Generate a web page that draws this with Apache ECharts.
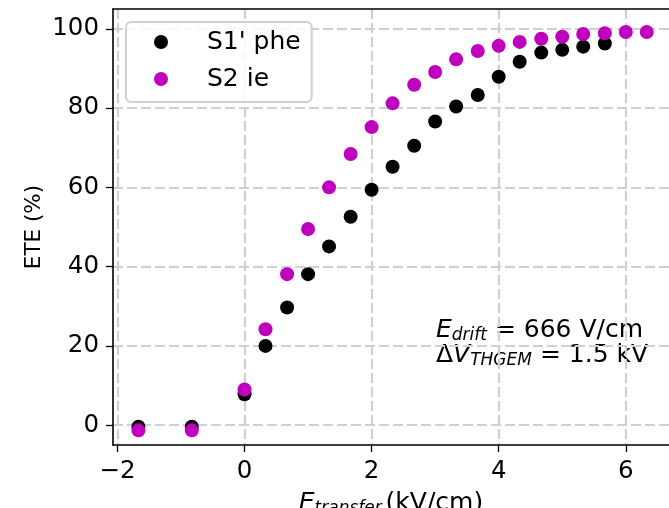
<!DOCTYPE html>
<html>
<head>
<meta charset="utf-8">
<script src="https://cdn.jsdelivr.net/npm/echarts@6/dist/echarts.min.js"></script>
<style>
  html, body { margin: 0; padding: 0; background: #fff; }
  #chart { width: 669px; height: 508px; }
</style>
</head>
<body>
<div id="chart"></div>
<script>
// data
const s1X = [-1.67, -0.83, 0, 0.33, 0.67, 1, 1.33, 1.67, 2, 2.33, 2.67, 3, 3.33, 3.67, 4, 4.33, 4.67, 5, 5.33, 5.67];
const s1Y = [-0.4, -0.4, 7.8, 20.0, 29.7, 38.1, 45.1, 52.6, 59.4, 65.2, 70.5, 76.6, 80.4, 83.3, 87.9, 91.7, 94.0, 94.7, 95.5, 96.3];
const s2X = [-1.67, -0.83, 0, 0.33, 0.67, 1, 1.33, 1.67, 2, 2.33, 2.67, 3, 3.33, 3.67, 4, 4.33, 4.67, 5, 5.33, 5.67, 6, 6.33];
const s2Y = [-1.3, -1.3, 9.0, 24.2, 38.1, 49.5, 60.0, 68.4, 75.2, 81.2, 85.9, 89.1, 92.3, 94.4, 95.7, 96.7, 97.5, 98.0, 98.7, 98.9, 99.2, 99.2];
const xTicks = [-2, 0, 2, 4, 6];
const yTicks = [0, 20, 40, 60, 80, 100];

const font = 'DejaVu Sans';
const pairs = (xs, ys) => xs.map((x, i) => [x, ys[i]]);

const chart = echarts.init(document.getElementById('chart'), null, {renderer: 'canvas'});

const gridLine = {show: true, lineStyle: {color: '#d0d0d0', width: 2.2, type: [10, 4]}};
const spine = {show: true, onZero: false, lineStyle: {color: '#000', width: 1.6}};

chart.setOption({
    animation: false,
    textStyle: {fontFamily: font},
    grid: {left: 113, top: 9, right: 0, bottom: 63, outerBoundsMode: 'none', containLabel: false},
    legend: {
        left: 126,
        top: 22,
        orient: 'vertical',
        icon: 'circle',
        itemWidth: 14,
        itemHeight: 14,
        itemGap: 9,
        padding: [6, 11, 9, 28],
        backgroundColor: 'rgba(255,255,255,0.85)',
        borderColor: '#d0d0d0',
        borderWidth: 2,
        borderRadius: 5,
        textStyle: {fontFamily: font, fontSize: 25, color: '#000', lineHeight: 28, padding: [0, 0, 0, 34]},
        data: ["S1' phe", 'S2 ie'],
    },
    xAxis: [
        {
            type: 'value',
            min: -2.07,
            max: 6.68,
            name: '{e|E}{sub|transfer} {n|(kV/cm)}',
            nameLocation: 'middle',
            nameGap: 44,
            nameTextStyle: {
                rich: {
                    e: {fontFamily: font, fontSize: 25, fontStyle: 'italic', color: '#000'},
                    sub: {fontFamily: font, fontSize: 17, fontStyle: 'italic', color: '#000', padding: [11, 0, 0, 0]},
                    n: {fontFamily: font, fontSize: 25, color: '#000'},
                },
            },
            axisLine: spine,
            axisTick: {show: true, length: 7, customValues: xTicks, lineStyle: {color: '#000', width: 1.3}},
            axisLabel: {customValues: xTicks, margin: 14, fontFamily: font, fontSize: 24.5, color: '#000',
                formatter: v => (v < 0 ? '\u2212' + Math.abs(v) : String(v))},
            splitLine: gridLine,
        },
        {
            type: 'value',
            position: 'top',
            min: -2.07,
            max: 6.68,
            axisLine: spine,
            axisTick: {show: false},
            axisLabel: {show: false},
            splitLine: {show: false},
        },
    ],
    yAxis: {
        type: 'value',
        min: -5,
        max: 105,
        name: 'ETE (%)',
        nameLocation: 'middle',
        nameGap: 68,
        nameMoveOverlap: false,
        nameTextStyle: {fontFamily: font, fontSize: 21.5, color: '#000'},
        axisLine: spine,
        axisTick: {show: true, length: 7, customValues: yTicks, lineStyle: {color: '#000', width: 1.3}},
        axisLabel: {customValues: yTicks, margin: 14, fontFamily: font, fontSize: 24.5, color: '#000'},
        splitLine: gridLine,
    },
    graphic: [
        {
            type: 'text',
            left: 436,
            top: 316,
            style: {
                text: '{e|E}{sub|drift}{n| = 666 V/cm}\n{n|Δ}{e|V}{sub|THGEM}{n| = 1.5 kV}',
                rich: {
                    e: {fontFamily: font, fontSize: 25, fontStyle: 'italic', fill: '#000', lineHeight: 25},
                    sub: {fontFamily: font, fontSize: 17, fontStyle: 'italic', fill: '#000', padding: [11, 0, 0, 0], lineHeight: 25},
                    n: {fontFamily: font, fontSize: 25, fill: '#000', lineHeight: 25},
                },
            },
        },
    ],
    series: [
        {
            name: "S1' phe",
            type: 'scatter',
            symbol: 'circle',
            symbolSize: 14,
            itemStyle: {color: '#000', opacity: 1},
            data: pairs(s1X, s1Y),
        },
        {
            name: 'S2 ie',
            type: 'scatter',
            symbol: 'circle',
            symbolSize: 14,
            itemStyle: {color: '#bf00bf', opacity: 1},
            data: pairs(s2X, s2Y),
        },
    ],
});
</script>
</body>
</html>
